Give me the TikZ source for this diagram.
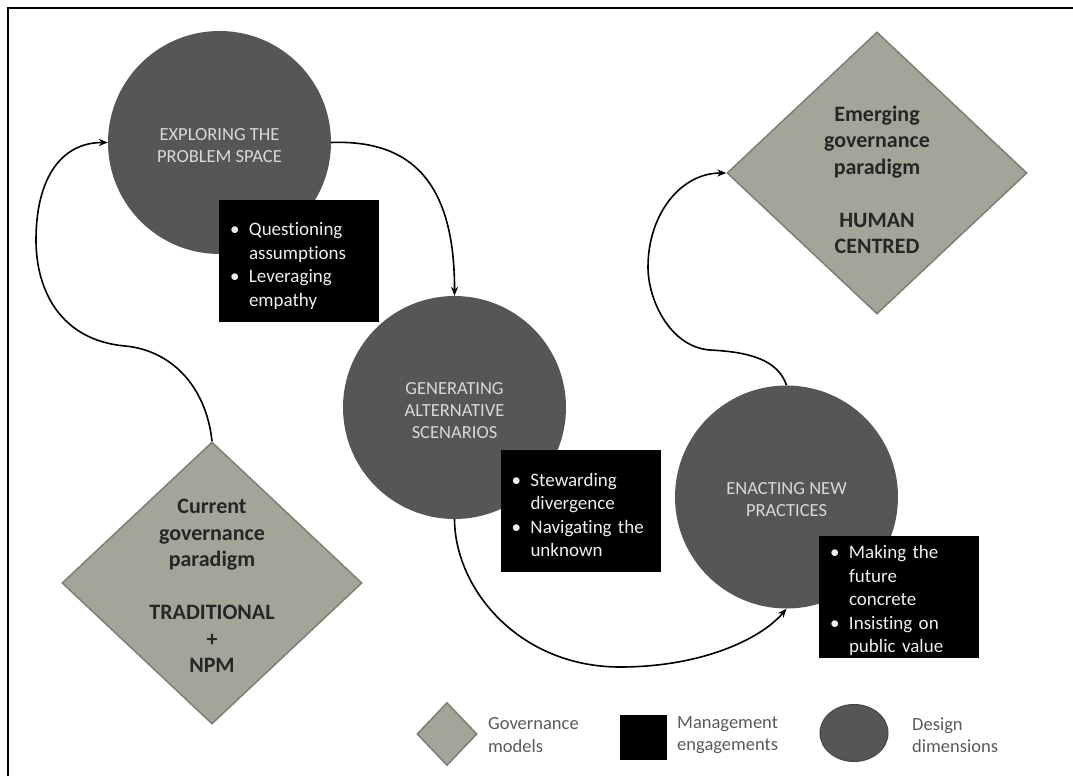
\documentclass[tikz,border=0pt]{standalone}
\usepackage{fontspec}
\setmainfont{Carlito}[Ligatures=NoCommon]
\usetikzlibrary{shapes.geometric,arrows.meta}

\definecolor{dimfill}{HTML}{565656}
\definecolor{dimedge}{HTML}{454545}
\definecolor{govfill}{HTML}{A5A498}
\definecolor{govedge}{HTML}{7E7E76}
\definecolor{captext}{HTML}{D8D8D8}
\definecolor{govtext}{HTML}{262626}
\definecolor{engtext}{HTML}{EEEEEE}
\definecolor{legtext}{HTML}{5A5A5A}

% bullet and hanging indent for the engagement lists
\newcommand\engbullet{\makebox[19pt][l]{\textbullet}}
\newcommand\engindent{\hspace*{19pt}}

\begin{document}
\begin{tikzpicture}[x=1pt,y=-1pt,
  dim/.style={circle, fill=dimfill, minimum size=223pt, inner sep=0pt},
  dimlabel/.style={text=captext, align=center, inner sep=0pt,
    font=\fontsize{18.5}{22}\selectfont},
  gov/.style={diamond, fill=govfill, draw=govedge, line width=1.5pt,
    inner sep=0pt, minimum width=300pt, minimum height=282pt},
  govlabel/.style={text=govtext, align=center, inner sep=0pt,
    font=\bfseries\fontsize{22}{26.5}\selectfont},
  engage/.style={rectangle, fill=black, minimum width=160pt, minimum height=122pt,
    inner sep=0pt},
  englabel/.style={text width=138pt, inner sep=0pt, align=left, text=engtext,
    font=\fontsize{19}{23.5}\selectfont},
  flow/.style={line width=1.6pt, -{Stealth[length=9pt,width=7pt]}},
  legendtext/.style={anchor=west, align=left, text=legtext, inner sep=0pt,
    font=\fontsize{18.5}{22.5}\selectfont},
]
\useasboundingbox (0,0) rectangle (1073,776);
\fill[white] (0,0) rectangle (1073,776);

% outer frame (open to the right and bottom)
\draw[line width=2pt] (8,776) -- (8,8) -- (1073,8);

% governance paradigms
\node[gov] (d1) at (212,583) {};
\node[govlabel] (d1text) at (212,586)
  {Current\\governance\\paradigm\\[26.5pt]TRADITIONAL\\+\\NPM};
\node[gov] (d2) at (877,173) {};
\node[govlabel] (d2text) at (877,180)
  {Emerging\\governance\\paradigm\\[26.5pt]HUMAN\\CENTRED};

% design dimensions
\node[dim] (c1) at (219.5,142.5) {};
\node[dimlabel] (c1text) at ([yshift=-3pt]c1.center) {EXPLORING THE\\PROBLEM SPACE};
\node[dim] (c2) at (454.5,407.5) {};
\node[dimlabel] (c2text) at ([yshift=-3pt]c2.center) {GENERATING\\ALTERNATIVE\\SCENARIOS};
\node[dim] (c3) at (786.5,497) {};
\node[dimlabel] (c3text) at ([yshift=-3pt]c3.center) {ENACTING NEW\\PRACTICES};

% management engagements
\node[engage] (b1) at (299,261) {};
\node[englabel] (b1text) at ([yshift=-5pt]b1.center)
  {\engbullet Questioning\\\engindent assumptions\\\engbullet Leveraging\\\engindent empathy};
\node[engage] (b2) at (580.5,511) {};
\node[englabel] (b2text) at ([yshift=-4pt]b2.center)
  {\engbullet Stewarding\\\engindent divergence\\\engbullet Navigating the\\\engindent unknown};
\node[engage] (b3) at (899,596.5) {};
\node[englabel] (b3text) at ([yshift=-4pt]b3.center)
  {\engbullet Making the\\\engindent future\\\engindent concrete\\\engbullet Insisting on\\\engindent public value};

% flow between the stages
\draw[flow] (d1.north) .. controls (206,385) and (170,350) .. (125,346)
  .. controls (60,340) and (36,290) .. (36,240)
  .. controls (36,180) and (60,142.5) .. (c1.west);
\draw[flow] (c1.east) .. controls (400,140) and (455,170) .. (c2.north);
\draw[flow] (c2.south) .. controls (455,590) and (520,667) .. (620,667)
  .. controls (700,667) and (760,640) .. (c3.south);
\draw[flow] (c3.north) .. controls (778,360) and (750,352) .. (710,350)
  .. controls (670,347) and (648,300) .. (648,267)
  .. controls (648,215) and (680,173) .. (d2.west);

% legend
\node[gov, minimum width=60pt, minimum height=63pt] (lgov) at (447,734) {};
\node[legendtext] (lgovtext) at (488,735) {Governance\\models};
\node[rectangle, fill=black, minimum width=47pt, minimum height=45pt, inner sep=0pt] (leng) at (643.5,737.5) {};
\node[legendtext] (lengtext) at (677,735) {Management\\engagements};
\node[ellipse, fill=dimfill, draw=dimedge, line width=1pt, minimum width=68pt, minimum height=57pt, inner sep=0pt] (ldim) at (854,733) {};
\node[legendtext] (ldimtext) at (912,735) {Design\\dimensions};
\end{tikzpicture}
\end{document}
